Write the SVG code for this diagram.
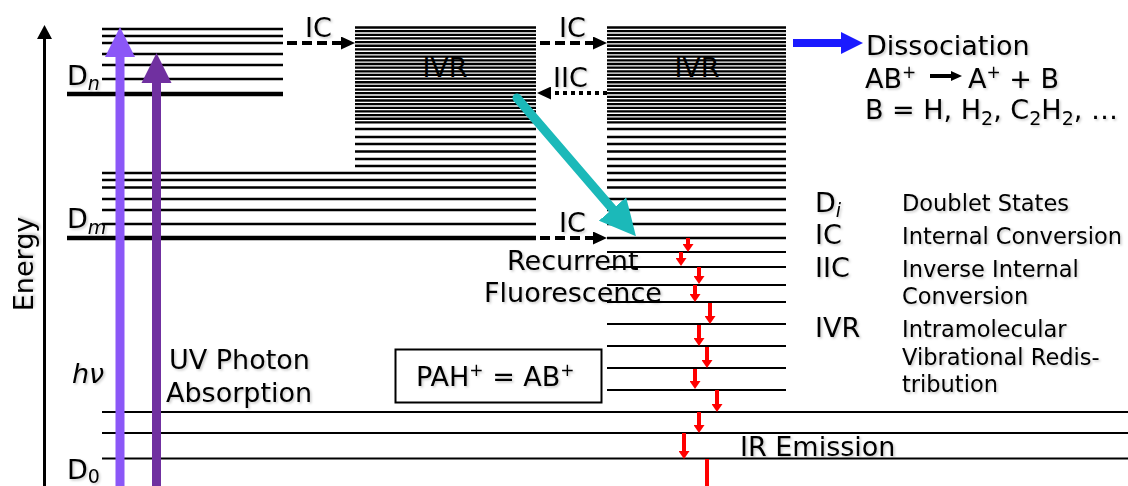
<svg xmlns="http://www.w3.org/2000/svg" width="1128" height="486" viewBox="0 0 1128 486">
<style>
text{font-family:"DejaVu Sans","Verdana",sans-serif;filter:url(#sh)}
.big{font-size:27px;fill:#000}
.leg{font-size:22.5px;fill:#000}
.sub{font-size:19px}
.sup{font-size:17px}
.lv{stroke:#000;stroke-width:2.5}
.lv2{stroke:#000;stroke-width:2}
.thick{stroke:#000;stroke-width:4.5}
.densel{stroke:#000;stroke-width:2.3;fill:none}
.dash{stroke:#000;stroke-width:4;stroke-dasharray:10 5;fill:none}
.dot{stroke:#000;stroke-width:4;stroke-dasharray:4 4;fill:none}
.ir{stroke:#ff0000;stroke-width:4;marker-end:url(#redhead)}
</style>
<defs>
<filter id="sh" x="-10%" y="-20%" width="120%" height="160%">
<feDropShadow dx="1.5" dy="1.5" stdDeviation="1" flood-color="#000" flood-opacity="0.22"/>
</filter>
<path id="dense" d="M0 27.5H181 M0 31.15H181 M0 34.8H181 M0 38.45H181 M0 42.1H181 M0 45.75H181 M0 49.4H181 M0 53.05H181 M0 56.7H181 M0 60.35H181 M0 64H181 M0 67.65H181 M0 71.3H181 M0 74.95H181 M0 78.6H181 M0 82.25H181 M0 85.9H181 M0 89.55H181 M0 93.2H181 M0 96.85H181 M0 100.5H181 M0 104.15H181 M0 107.8H181 M0 111.45H181 M0 115.1H181 M0 118.75H181 M0 122.4H181"/>
<marker id="blackhead" viewBox="0 0 10 10" refX="0" refY="5" markerUnits="userSpaceOnUse" markerWidth="14" markerHeight="13" orient="auto" preserveAspectRatio="none">
<path d="M0,0 L10,5 L0,10 z" fill="#000"/>
</marker>
<marker id="smallhead" viewBox="0 0 10 10" refX="0" refY="5" markerUnits="userSpaceOnUse" markerWidth="11" markerHeight="10" orient="auto" preserveAspectRatio="none">
<path d="M0,0 L10,5 L0,10 z" fill="#000"/>
</marker>
<marker id="redhead" viewBox="0 0 10 10" refX="0" refY="5" markerUnits="userSpaceOnUse" markerWidth="8" markerHeight="11" orient="auto" preserveAspectRatio="none">
<path d="M0,0 L10,5 L0,10 z" fill="#ff0000"/>
</marker>
<marker id="tealhead" viewBox="0 0 10 10" refX="0" refY="5" markerUnits="userSpaceOnUse" markerWidth="36" markerHeight="36" orient="auto" preserveAspectRatio="none">
<path d="M0,0 L10,5 L0,10 z" fill="#1bb9b9"/>
</marker>
<marker id="bluehead" viewBox="0 0 10 10" refX="0" refY="5" markerUnits="userSpaceOnUse" markerWidth="22" markerHeight="22" orient="auto" preserveAspectRatio="none">
<path d="M0,0 L10,5 L0,10 z" fill="#1a1aff"/>
</marker>
</defs>
<rect width="1128" height="486" fill="#fff"/>

<g id="axis">
<line x1="44.5" y1="486" x2="44.5" y2="38" stroke="#000" stroke-width="3"/>
<polygon points="37,39 52,39 44.5,25" fill="#000"/>
<text class="big" transform="translate(33,264) rotate(-90)" text-anchor="middle">Energy</text>
</g>

<g id="levels-dn">
<line class="lv" x1="102" y1="29" x2="283" y2="29"/>
<line class="lv" x1="102" y1="36" x2="283" y2="36"/>
<line class="lv" x1="102" y1="43" x2="283" y2="43"/>
<line class="lv" x1="102" y1="54" x2="283" y2="54"/>
<line class="lv" x1="102" y1="65" x2="283" y2="65"/>
<line class="lv" x1="102" y1="79" x2="283" y2="79"/>
<line class="thick" x1="67" y1="94" x2="283" y2="94"/>
<text class="big" x="67" y="85">D<tspan class="sub" font-style="italic" dy="5">n</tspan></text>
</g>

<g id="ivr-1">
<use href="#dense" class="densel" transform="translate(355,0)"/>
<line class="lv" x1="355" y1="129" x2="536" y2="129"/>
<line class="lv" x1="355" y1="137" x2="536" y2="137"/>
<line class="lv" x1="355" y1="144" x2="536" y2="144"/>
<line class="lv" x1="355" y1="151.5" x2="536" y2="151.5"/>
<line class="lv" x1="355" y1="159" x2="536" y2="159"/>
<line class="lv" x1="355" y1="166" x2="536" y2="166"/>
<text class="big" x="445" y="77" text-anchor="middle" fill="#1a1a1a" style="filter:none">IVR</text>
</g>

<g id="levels-dm">
<line class="lv" x1="102" y1="173" x2="536" y2="173"/>
<line class="lv" x1="102" y1="180" x2="536" y2="180"/>
<line class="lv" x1="102" y1="187.5" x2="536" y2="187.5"/>
<line class="lv" x1="102" y1="199" x2="536" y2="199"/>
<line class="lv" x1="102" y1="210" x2="536" y2="210"/>
<line class="lv" x1="102" y1="224" x2="536" y2="224"/>
<line class="thick" x1="67" y1="238" x2="536" y2="238"/>
<text class="big" x="67" y="228">D<tspan class="sub" font-style="italic" dy="6">m</tspan></text>
</g>

<g id="ivr-2">
<use href="#dense" class="densel" transform="translate(607,0) scale(0.989,1)"/>
<line class="lv" x1="607" y1="129" x2="786" y2="129"/>
<line class="lv" x1="607" y1="137" x2="786" y2="137"/>
<line class="lv" x1="607" y1="144" x2="786" y2="144"/>
<line class="lv" x1="607" y1="151.5" x2="786" y2="151.5"/>
<line class="lv" x1="607" y1="159" x2="786" y2="159"/>
<line class="lv" x1="607" y1="166" x2="786" y2="166"/>
<line class="lv" x1="607" y1="173" x2="786" y2="173"/>
<line class="lv" x1="607" y1="180" x2="786" y2="180"/>
<line class="lv" x1="607" y1="187.5" x2="786" y2="187.5"/>
<line class="lv" x1="607" y1="199" x2="786" y2="199"/>
<line class="lv" x1="607" y1="210" x2="786" y2="210"/>
<line class="lv" x1="607" y1="224" x2="786" y2="224"/>
<line class="lv" x1="607" y1="238" x2="786" y2="238"/>
<line class="lv2" x1="607" y1="252" x2="786" y2="252"/>
<line class="lv2" x1="607" y1="267" x2="786" y2="267"/>
<line class="lv2" x1="607" y1="285" x2="786" y2="285"/>
<line class="lv2" x1="607" y1="302" x2="786" y2="302"/>
<line class="lv2" x1="607" y1="324" x2="786" y2="324"/>
<line class="lv2" x1="607" y1="346" x2="786" y2="346"/>
<line class="lv2" x1="607" y1="368" x2="786" y2="368"/>
<line class="lv2" x1="607" y1="390" x2="786" y2="390"/>
<text class="big" x="697" y="77" text-anchor="middle" fill="#1a1a1a" style="filter:none">IVR</text>
</g>

<g id="levels-d0">
<line class="lv2" x1="102" y1="412" x2="1128" y2="412"/>
<line class="lv2" x1="102" y1="433" x2="1128" y2="433"/>
<line class="lv2" x1="102" y1="458.5" x2="1128" y2="458.5"/>
<text class="big" x="67" y="479">D<tspan class="sub" font-size="17" dy="4">0</tspan></text>
</g>

<g id="photon-absorption">
<rect x="115.5" y="56" width="9" height="430" fill="#8b57f7"/>
<polygon points="105,57 135,57 120,27" fill="#8b57f7"/>
<rect x="152" y="82" width="9" height="404" fill="#7030a0"/>
<polygon points="141.5,83 171.5,83 156.5,53" fill="#7030a0"/>
<text class="big" x="72" y="383" font-style="italic">hν</text>
<text class="big" x="169" y="369">UV Photon</text>
<text class="big" x="166" y="402">Absorption</text>
</g>

<g id="pah-box">
<rect x="395.5" y="349.5" width="206" height="53" fill="none" stroke="#000" stroke-width="2"/>
<text class="big" x="416" y="386">PAH<tspan class="sup" dy="-10">+</tspan><tspan dy="10"> = AB</tspan><tspan class="sup" dy="-10">+</tspan></text>
</g>

<g id="dissociation">
<text class="big" x="866" y="55" fill="#1a1aff">Dissociation</text>
<text class="big" x="865" y="88">AB<tspan class="sup" dy="-10">+</tspan></text>
<text class="big" x="968" y="88">A<tspan class="sup" dy="-10">+</tspan><tspan dy="10"> + B</tspan></text>
<text class="big" x="865" y="119">B = H, H<tspan class="sub" dy="6">2</tspan><tspan dy="-6">, C</tspan><tspan class="sub" dy="6">2</tspan><tspan dy="-6">H</tspan><tspan class="sub" dy="6">2</tspan><tspan dy="-6">, …</tspan></text>
</g>

<g id="recurrent-fluorescence">
<text class="big" x="507" y="270" fill="#1bb9b9">Recurrent</text>
<text class="big" x="484" y="302" fill="#1bb9b9">Fluorescence</text>
</g>

<g id="ir-emission">
<text class="big" x="740" y="456" fill="#ff0000">IR Emission</text>
</g>

<g id="legend">
<text class="big" x="815" y="212">D<tspan class="sub" font-style="italic" dy="5">i</tspan></text>
<text class="big" x="815" y="244">IC</text>
<text class="big" x="815" y="277">IIC</text>
<text class="big" x="815" y="337">IVR</text>
<text class="leg" x="902" y="211">Doublet States</text>
<text class="leg" x="902" y="244">Internal Conversion</text>
<text class="leg" x="902" y="277">Inverse Internal</text>
<text class="leg" x="902" y="304">Conversion</text>
<text class="leg" x="902" y="337">Intramolecular</text>
<text class="leg" x="902" y="365">Vibrational Redis-</text>
<text class="leg" x="902" y="392">tribution</text>
</g>

<g id="connectors">
<line class="dash" x1="287" y1="43" x2="341" y2="43" marker-end="url(#blackhead)"/>
<text class="big" x="305" y="37">IC</text>
<line class="dash" x1="540" y1="43" x2="593" y2="43" marker-end="url(#blackhead)"/>
<text class="big" x="559" y="37">IC</text>
<line class="dot" x1="607" y1="93" x2="551" y2="93" marker-end="url(#blackhead)"/>
<text class="big" x="553" y="87">IIC</text>
<line class="dash" x1="540" y1="238" x2="593" y2="238" marker-end="url(#blackhead)"/>
<text class="big" x="559" y="232">IC</text>
<line x1="517" y1="98" x2="612.5" y2="209" stroke="#1bb9b9" stroke-width="9" stroke-linecap="round" marker-end="url(#tealhead)"/>
<line x1="793" y1="43" x2="841" y2="43" stroke="#1a1aff" stroke-width="8" marker-end="url(#bluehead)"/>
<line x1="930" y1="76" x2="951" y2="76" stroke="#000" stroke-width="4" marker-end="url(#smallhead)"/>
<line class="ir" x1="688" y1="238" x2="688" y2="244"/>
<line class="ir" x1="681" y1="252" x2="681" y2="258"/>
<line class="ir" x1="699" y1="267" x2="699" y2="276"/>
<line class="ir" x1="695" y1="285" x2="695" y2="294"/>
<line class="ir" x1="710" y1="303" x2="710" y2="316"/>
<line class="ir" x1="699" y1="325" x2="699" y2="338"/>
<line class="ir" x1="707" y1="347" x2="707" y2="360"/>
<line class="ir" x1="695" y1="369" x2="695" y2="381"/>
<line class="ir" x1="717" y1="390" x2="717" y2="404"/>
<line class="ir" x1="699" y1="412" x2="699" y2="425"/>
<line class="ir" x1="684" y1="433" x2="684" y2="451"/>
<line x1="707" y1="459" x2="707" y2="490" stroke="#ff0000" stroke-width="4"/>
</g>
</svg>
